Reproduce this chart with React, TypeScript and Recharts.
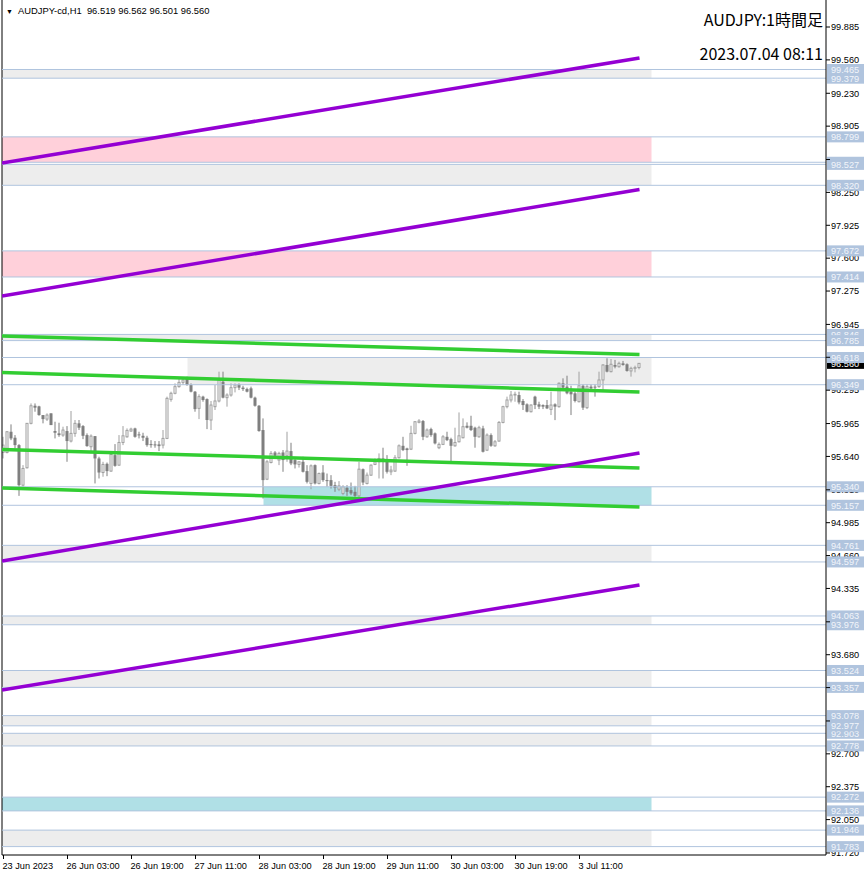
import React from 'react';
import { ComposedChart, Bar, XAxis, YAxis, ReferenceLine, ReferenceArea } from 'recharts';

// H1 bars, first bar = 23 Jun 11:00, one label every 16 bars
const timeLabels = [
  '23 Jun 2023', '26 Jun 03:00', '26 Jun 19:00', '27 Jun 11:00', '28 Jun 03:00',
  '28 Jun 19:00', '29 Jun 11:00', '30 Jun 03:00', '30 Jun 19:00', '3 Jul 11:00',
];
const BARS_PER_LABEL = 16;

const priceTicks = [
  99.885, 99.56, 99.23, 98.905, 98.575, 98.25, 97.925, 97.6, 97.275, 96.945, 96.62, 96.295, 95.965,
  95.64, 95.31, 94.985, 94.66, 94.335, 94.005, 93.68, 93.355, 93.025, 92.7, 92.375, 92.05, 91.72,
];

// [open, high, low, close]
const ohlc = [
  [95.679, 95.834, 95.62, 95.752], [95.679, 95.891, 95.67, 95.884], [95.884, 95.957, 95.801, 95.818],
  [95.825, 95.851, 95.719, 95.752], [95.752, 95.762, 95.25, 95.356], [95.356, 95.554, 95.34, 95.521],
  [95.528, 95.967, 95.521, 95.967], [95.967, 96.164, 95.957, 96.141], [96.141, 96.164, 96.082, 96.122],
  [96.135, 96.141, 96.042, 96.049], [96.049, 96.049, 95.967, 96.009], [96.009, 96.066, 95.99, 96.049],
  [96.066, 96.066, 95.95, 95.95], [95.891, 95.983, 95.818, 95.874], [95.868, 95.973, 95.834, 95.851],
  [95.851, 95.934, 95.834, 95.901], [95.891, 95.94, 95.587, 95.792], [95.792, 96.089, 95.778, 95.868],
  [95.868, 96.0, 95.834, 95.967], [95.967, 96.0, 95.901, 95.924], [95.94, 95.95, 95.811, 95.844],
  [95.851, 95.868, 95.736, 95.742], [95.736, 95.858, 95.67, 95.841], [95.841, 95.841, 95.373, 95.62],
  [95.62, 95.637, 95.422, 95.481], [95.481, 95.587, 95.439, 95.561], [95.567, 95.58, 95.445, 95.495],
  [95.495, 95.693, 95.488, 95.66], [95.653, 95.762, 95.538, 95.547], [95.554, 95.851, 95.547, 95.778],
  [95.778, 95.94, 95.752, 95.844], [95.834, 95.917, 95.825, 95.897], [95.891, 95.924, 95.884, 95.91],
  [95.917, 95.924, 95.825, 95.834], [95.858, 95.884, 95.818, 95.851], [95.844, 95.874, 95.792, 95.825],
  [95.825, 95.844, 95.736, 95.752], [95.762, 95.801, 95.726, 95.752], [95.759, 95.792, 95.726, 95.752],
  [95.759, 95.792, 95.693, 95.742], [95.752, 95.901, 95.719, 95.818],
  [95.818, 96.231, 95.811, 96.214], [96.204, 96.28, 96.181, 96.264], [96.264, 96.362, 96.254, 96.33],
  [96.33, 96.412, 96.32, 96.372], [96.372, 96.419, 96.346, 96.396], [96.405, 96.429, 96.339, 96.346],
  [96.346, 96.362, 96.273, 96.28], [96.28, 96.287, 96.082, 96.108], [96.115, 96.254, 96.009, 96.231],
  [96.231, 96.24, 96.181, 96.198], [96.207, 96.214, 95.91, 96.0], [96.0, 96.188, 95.901, 96.148],
  [96.132, 96.346, 96.099, 96.188], [96.188, 96.478, 96.174, 96.396], [96.379, 96.478, 96.214, 96.221],
  [96.221, 96.264, 96.132, 96.247], [96.247, 96.362, 96.231, 96.32], [96.32, 96.362, 96.273, 96.346],
  [96.353, 96.362, 96.296, 96.32], [96.32, 96.339, 96.287, 96.306], [96.306, 96.32, 96.273, 96.28],
  [96.313, 96.33, 96.214, 96.221], [96.221, 96.231, 96.132, 96.141], [96.141, 96.148, 95.884, 95.891],
  [95.901, 96.016, 95.224, 95.406], [95.415, 95.604, 95.406, 95.587], [95.58, 95.693, 95.571, 95.67],
  [95.679, 95.693, 95.62, 95.646], [95.604, 95.686, 95.554, 95.67], [95.679, 95.703, 95.488, 95.604],
  [95.646, 95.884, 95.587, 95.693], [95.693, 95.775, 95.554, 95.571], [95.604, 95.62, 95.521, 95.561],
  [95.561, 95.59, 95.53, 95.587], [95.587, 95.637, 95.481, 95.488], [95.495, 95.554, 95.373, 95.389],
  [95.373, 95.561, 95.316, 95.547], [95.554, 95.561, 95.363, 95.373], [95.373, 95.481, 95.363, 95.471],
  [95.481, 95.554, 95.389, 95.406],
  [95.406, 95.471, 95.34, 95.396], [95.406, 95.455, 95.323, 95.349], [95.356, 95.389, 95.29, 95.33],
  [95.316, 95.396, 95.297, 95.349], [95.274, 95.356, 95.257, 95.34], [95.33, 95.356, 95.25, 95.29],
  [95.307, 95.382, 95.257, 95.274], [95.29, 95.349, 95.24, 95.25], [95.25, 95.587, 95.24, 95.514],
  [95.514, 95.521, 95.356, 95.382], [95.373, 95.481, 95.363, 95.455], [95.455, 95.561, 95.448, 95.554],
  [95.561, 95.62, 95.554, 95.587], [95.587, 95.67, 95.422, 95.62], [95.62, 95.726, 95.422, 95.613],
  [95.604, 95.653, 95.471, 95.488], [95.488, 95.547, 95.455, 95.505], [95.495, 95.653, 95.488, 95.627],
  [95.627, 95.759, 95.62, 95.745], [95.745, 95.834, 95.693, 95.703], [95.719, 95.726, 95.547, 95.703],
  [95.712, 95.943, 95.703, 95.868], [95.868, 95.99, 95.858, 95.983], [95.977, 96.009, 95.967, 95.99],
  [95.99, 96.0, 95.801, 95.834], [95.834, 95.917, 95.825, 95.901], [95.91, 95.924, 95.834, 95.851],
  [95.868, 95.877, 95.759, 95.769], [95.726, 95.778, 95.712, 95.759], [95.759, 95.851, 95.752, 95.834],
  [95.834, 95.884, 95.792, 95.801], [95.811, 95.825, 95.594, 95.745], [95.745, 95.924, 95.736, 95.778],
  [95.785, 96.075, 95.778, 95.844], [95.825, 96.016, 95.818, 95.934], [95.943, 95.977, 95.917, 95.924],
  [95.943, 96.042, 95.891, 95.901], [95.924, 95.934, 95.726, 95.834], [95.834, 95.943, 95.825, 95.924],
  [95.917, 95.943, 95.679, 95.686],
  [95.702, 95.868, 95.693, 95.851], [95.851, 95.868, 95.735, 95.745], [95.745, 95.802, 95.735, 95.785],
  [95.792, 95.99, 95.785, 95.976], [95.976, 96.141, 95.967, 96.132], [96.132, 96.231, 96.115, 96.198],
  [96.198, 96.287, 96.174, 96.247], [96.247, 96.28, 96.181, 96.254], [96.247, 96.28, 96.155, 96.174],
  [96.188, 96.207, 96.099, 96.148], [96.155, 96.165, 96.075, 96.082], [96.082, 96.155, 96.075, 96.148],
  [96.231, 96.24, 96.108, 96.148], [96.155, 96.181, 96.108, 96.132], [96.148, 96.155, 96.108, 96.132],
  [96.148, 96.198, 96.108, 96.115], [96.105, 96.28, 96.049, 96.148], [96.155, 96.165, 95.999, 96.132],
  [96.132, 96.372, 96.122, 96.363], [96.363, 96.412, 96.306, 96.32], [96.33, 96.438, 96.254, 96.264],
  [96.28, 96.339, 96.049, 96.254], [96.264, 96.28, 96.174, 96.188], [96.181, 96.478, 96.174, 96.339],
  [96.339, 96.353, 96.099, 96.122], [96.122, 96.353, 96.108, 96.33], [96.33, 96.353, 96.297, 96.313],
  [96.33, 96.353, 96.231, 96.32], [96.33, 96.478, 96.32, 96.396], [96.396, 96.551, 96.287, 96.544],
  [96.544, 96.61, 96.471, 96.478], [96.478, 96.603, 96.471, 96.551], [96.544, 96.594, 96.511, 96.527],
  [96.527, 96.577, 96.518, 96.56], [96.56, 96.584, 96.537, 96.544], [96.551, 96.56, 96.478, 96.485],
  [96.485, 96.527, 96.429, 96.511], [96.511, 96.537, 96.471, 96.518], [96.519, 96.562, 96.501, 96.56],
];

const lastPrice = 96.56;

// horizontal lines, in drawing order
const levels = [
  99.379, 99.465, 98.799, 98.548, 98.527, 98.32, 97.672, 97.414, 96.846, 96.785, 96.618, 96.349,
  95.34, 95.157, 94.761, 94.597, 94.063, 93.976, 93.524, 93.357, 93.078, 92.903, 92.977, 92.778,
  92.272, 92.136, 91.946, 91.783,
];

// zones: [fromBar, toBar, top, bottom, kind]
const X0 = -0.375;
const X1 = 205.625;
const zones: [number, number, number, number, string][] = [
  [X0, 162, 99.465, 99.379, 'grey'],
  [X0, 162, 98.799, 98.548, 'pink'],
  [X0, 162, 98.527, 98.32, 'grey'],
  [X0, 162, 97.672, 97.414, 'pink'],
  [X0, 162, 96.846, 96.785, 'grey'],
  [46, 162, 96.618, 96.349, 'grey'],
  [65, 162, 95.34, 95.157, 'cyan'],
  [X0, 162, 94.761, 94.597, 'grey'],
  [X0, 162, 94.063, 93.976, 'grey'],
  [X0, 162, 93.524, 93.357, 'grey'],
  [X0, 162, 93.078, 92.977, 'grey'],
  [X0, 162, 92.903, 92.778, 'grey'],
  [X0, 162, 92.272, 92.136, 'cyan'],
  [X0, 162, 91.946, 91.783, 'grey'],
];
const zoneFill: Record<string, string> = { grey: '#ededed', pink: '#ffd0da', cyan: '#b0e0e6' };

// trend lines: price at left edge and at last bar
const LAST_BAR = 159;
const purpleLines = [
  [98.541, 99.579],
  [97.226, 98.279],
  [94.606, 95.674],
  [93.331, 94.369],
];
const greenLines = [
  [96.831, 96.648],
  [96.47, 96.277],
  [95.709, 95.525],
  [95.328, 95.14],
];

const data = ohlc.map(([o, h, l, c], i) => ({ i, o, h, l, c }));

const FONT = "'Liberation Sans', Arial, sans-serif";

const Candle = (props: any) => {
  const { x, y, width, height, payload } = props;
  const { o, h, l, c } = payload;
  const top = Math.min(y, y + height);
  const span = Math.abs(height);
  const py = (v: number) => (h === l ? top : top + ((h - v) / (h - l)) * span);
  const cx = x + width / 2;
  const bull = c >= o;
  const colour = bull ? '#a0a0a0' : '#7f7f7f';
  const bTop = py(Math.max(o, c));
  const bBot = py(Math.min(o, c));
  return (
    <g>
      <line x1={cx} x2={cx} y1={py(h)} y2={py(l)} stroke={colour} strokeWidth={1} />
      {bull ? (
        <rect x={cx - 1} y={bTop} width={2} height={Math.max(bBot - bTop, 0.5)} fill="#fff" stroke={colour} strokeWidth={1} />
      ) : (
        <rect x={cx - 1.5} y={bTop} width={3} height={Math.max(bBot - bTop, 1)} fill={colour} />
      )}
    </g>
  );
};

// price label drawn right of the axis, on top of the tick labels
const PriceBox = ({ viewBox, value, bg, fg }: any) => {
  const left = viewBox.x + viewBox.width + 1;
  return (
    <g>
      <rect x={left} y={viewBox.y - 5.5} width={37} height={11} fill={bg} />
      <text x={left + 4} y={viewBox.y} dy="0.36em" fontSize={9.2} fontFamily={FONT} fill={fg}>
        {value.toFixed(3)}
      </text>
    </g>
  );
};

const TickText = ({ viewBox, value }: any) => (
  <text x={viewBox.x + viewBox.width + 5} y={viewBox.y} dy="0.36em" fontSize={9.2} fontFamily={FONT} fill="#000">
    {value.toFixed(3)}
  </text>
);

const TimeTick = ({ x, y, payload }: any) => (
  <text x={x - 1} y={y + 8} fontSize={9.2} fontFamily={FONT} fill="#000" textAnchor="start">
    {timeLabels[Math.round(payload.value / BARS_PER_LABEL)]}
  </text>
);

const NoTick = () => <g />;

export default function App() {
  return (
    <div style={{ position: 'absolute', left: 0, top: 0, width: 866, height: 876, background: '#fff' }}>
      <ComposedChart width={866} height={876} data={data} margin={{ top: 0, right: 0, bottom: 0, left: 2 }}>
        <XAxis
          dataKey="i"
          type="number"
          domain={[X0, X1]}
          allowDataOverflow
          ticks={timeLabels.map((_, k) => k * BARS_PER_LABEL)}
          interval={0}
          height={21}
          tickSize={4}
          tickMargin={2}
          axisLine={{ stroke: '#000' }}
          tickLine={{ stroke: '#000' }}
          tick={<TimeTick />}
        />
        <YAxis
          orientation="right"
          type="number"
          domain={[91.7, 100.152]}
          allowDataOverflow
          ticks={priceTicks}
          interval={0}
          width={40}
          tickSize={4}
          tickMargin={1}
          axisLine={{ stroke: '#000' }}
          tickLine={{ stroke: '#000' }}
          tick={<NoTick />}
        />
        {zones.map(([a, b, top, bottom, kind], k) => (
          <ReferenceArea
            key={`z${k}`}
            x1={a}
            x2={b}
            y1={bottom}
            y2={top}
            fill={zoneFill[kind]}
            fillOpacity={1}
            stroke="none"
            ifOverflow="hidden"
          />
        ))}
        <ReferenceLine x={X0} stroke="#000" ifOverflow="visible" />
        {priceTicks.map((t) => (
          <ReferenceLine
            key={`t${t}`}
            y={t}
            stroke="none"
            label={(p: any) => <TickText viewBox={p.viewBox} value={t} />}
          />
        ))}
        <ReferenceLine
          y={lastPrice}
          stroke="none"
          label={(p: any) => <PriceBox viewBox={p.viewBox} value={lastPrice} bg="#000" fg="#fff" />}
        />
        {levels.map((v) => (
          <ReferenceLine
            key={`l${v}`}
            y={v}
            stroke="#b0c4de"
            strokeWidth={1}
            label={(p: any) => <PriceBox viewBox={p.viewBox} value={v} bg="#b0c4de" fg="#f2f5fa" />}
          />
        ))}
        <Bar
          dataKey={(d: any) => [d.l, d.h]}
          barSize={3}
          shape={<Candle />}
          isAnimationActive={false}
        />
        {greenLines.map(([a, b], k) => (
          <ReferenceLine
            key={`g${k}`}
            segment={[{ x: X0, y: a }, { x: LAST_BAR, y: b }]}
            stroke="#32cd32"
            strokeWidth={3.5}
            ifOverflow="hidden"
          />
        ))}
        {purpleLines.map(([a, b], k) => (
          <ReferenceLine
            key={`p${k}`}
            segment={[{ x: X0, y: a }, { x: LAST_BAR, y: b }]}
            stroke="#9400d3"
            strokeWidth={3.5}
            ifOverflow="hidden"
          />
        ))}
      </ComposedChart>
      <div style={{ position: 'absolute', left: 6, top: 5, fontFamily: FONT, fontSize: 9.4, lineHeight: '12px', color: '#000', whiteSpace: 'pre' }}>
        <span style={{ fontSize: 7, marginRight: 5 }}>▼</span>AUDJPY-cd,H1  96.519 96.562 96.501 96.560
      </div>
      <div style={{ position: 'absolute', right: 43, top: 11, fontFamily: "'Noto Sans CJK JP', sans-serif", fontSize: 16, lineHeight: '16px', color: '#000', whiteSpace: 'pre' }}>
        AUDJPY:1時間足
      </div>
      <div style={{ position: 'absolute', right: 43, top: 45, fontFamily: "'Noto Sans CJK JP', sans-serif", fontSize: 16, lineHeight: '16px', color: '#000', whiteSpace: 'pre' }}>
        2023.07.04 08:11
      </div>
    </div>
  );
}
